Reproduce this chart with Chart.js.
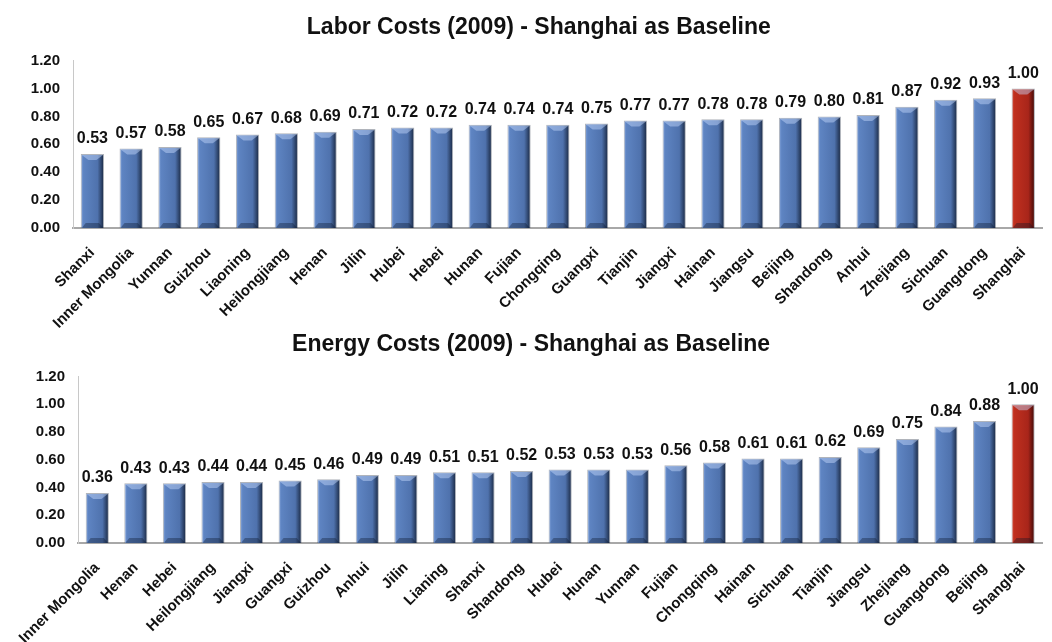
<!DOCTYPE html>
<html>
<head>
<meta charset="utf-8">
<script src="https://cdn.jsdelivr.net/npm/chart.js@4"></script>
<style>
  html, body { margin: 0; padding: 0; background: #fff; overflow: hidden; }
  .box { position: relative; width: 1052px; }
</style>
</head>
<body>
<div class="box" style="height:334px"><canvas id="laborChart"></canvas></div>
<div class="box" style="height:320px;margin-top:-12px"><canvas id="energyChart"></canvas></div>
<script>
// --- data ---
const laborRegions = ["Shanxi", "Inner Mongolia", "Yunnan", "Guizhou", "Liaoning", "Heilongjiang", "Henan", "Jilin", "Hubei", "Hebei", "Hunan", "Fujian", "Chongqing", "Guangxi", "Tianjin", "Jiangxi", "Hainan", "Jiangsu", "Beijing", "Shandong", "Anhui", "Zhejiang", "Sichuan", "Guangdong", "Shanghai"];
const laborValues = [0.53, 0.57, 0.58, 0.65, 0.67, 0.68, 0.69, 0.71, 0.72, 0.72, 0.74, 0.74, 0.74, 0.75, 0.77, 0.77, 0.78, 0.78, 0.79, 0.80, 0.81, 0.87, 0.92, 0.93, 1.00];

const energyRegions = ["Inner Mongolia", "Henan", "Hebei", "Heilongjiang", "Jiangxi", "Guangxi", "Guizhou", "Anhui", "Jilin", "Lianing", "Shanxi", "Shandong", "Hubei", "Hunan", "Yunnan", "Fujian", "Chongqing", "Hainan", "Sichuan", "Tianjin", "Jiangsu", "Zhejiang", "Guangdong", "Beijing", "Shanghai"];
const energyValues = [0.36, 0.43, 0.43, 0.44, 0.44, 0.45, 0.46, 0.49, 0.49, 0.51, 0.51, 0.52, 0.53, 0.53, 0.53, 0.56, 0.58, 0.61, 0.61, 0.62, 0.69, 0.75, 0.84, 0.88, 1.00];

const yTicks = [0, 0.2, 0.4, 0.6, 0.8, 1.0, 1.2];
const baseline = "Shanghai";

const FONT = "'Liberation Sans', Arial, sans-serif";

// horizontal shading for each bar
function barFill(ctx, labels) {
    const chart = ctx.chart;
    const isBase = labels[ctx.dataIndex] === baseline;
    if (!chart.chartArea || !chart.scales.x) return isBase ? '#b8281c' : '#5a7fbd';
    const x = chart.scales.x.getPixelForValue(ctx.dataIndex);
    const half = chart.scales.x.width / labels.length * 0.3;
    const g = chart.ctx.createLinearGradient(x - half, 0, x + half, 0);
    if (isBase) {
        g.addColorStop(0, '#d8503c');
        g.addColorStop(0.12, '#c0301f');
        g.addColorStop(0.72, '#a8251a');
        g.addColorStop(1, '#3a0806');
    } else {
        g.addColorStop(0, '#86a6dc');
        g.addColorStop(0.12, '#5e84c2');
        g.addColorStop(0.72, '#4f72ad');
        g.addColorStop(1, '#17253e');
    }
    return g;
}

// bevel on top / bottom of bars, then value labels
const barDecor = {
    id: 'barDecor',
    afterDatasetsDraw(chart) {
        const c = chart.ctx;
        const meta = chart.getDatasetMeta(0);
        const data = chart.data.datasets[0].data;
        c.save();
        meta.data.forEach((bar) => {
            const l = bar.x - bar.width / 2, r = bar.x + bar.width / 2;
            const t = bar.y, b = bar.base, k = 5;
            // top chevron highlight
            c.fillStyle = 'rgba(200,220,255,0.45)';
            c.beginPath();
            c.moveTo(l + 1, t + 1); c.lineTo(r - 1, t + 1);
            c.lineTo(bar.x + 4, t + k + 1); c.lineTo(bar.x - 4, t + k + 1);
            c.closePath(); c.fill();
            // bottom shade
            c.fillStyle = 'rgba(10,20,40,0.35)';
            c.beginPath();
            c.moveTo(l + 1, b); c.lineTo(r - 1, b);
            c.lineTo(r - k, b - k); c.lineTo(l + k, b - k);
            c.closePath(); c.fill();
        });
        c.font = 'bold 16px ' + FONT;
        c.fillStyle = '#111';
        c.textAlign = 'center';
        c.textBaseline = 'bottom';
        meta.data.forEach((bar, i) => {
            c.fillText(data[i].toFixed(2), bar.x, bar.y - 7);
        });
        c.restore();
    }
};

function makeChart(id, title, labels, values, opts) {
    new Chart(document.getElementById(id), {
        type: 'bar',
        data: {
            labels: labels,
            datasets: [{
                data: values,
                backgroundColor: (ctx) => barFill(ctx, labels),
                borderColor: 'rgba(30,40,60,0.35)',
                borderWidth: 1,
                categoryPercentage: 1.0,
                barPercentage: 0.6
            }]
        },
        plugins: [barDecor],
        options: {
            responsive: true,
            maintainAspectRatio: false,
            animation: false,
            layout: { padding: { left: 0, right: opts.right, top: 0, bottom: 0 } },
            plugins: {
                legend: { display: false },
                tooltip: { enabled: false },
                title: {
                    display: true,
                    // leading spaces nudge the centred title right, as in the original
                    text: opts.indent + title,
                    color: '#111',
                    font: { family: FONT, size: 23, weight: 'bold' },
                    padding: { top: opts.titleTop, bottom: opts.titleBottom }
                }
            },
            scales: {
                x: {
                    grid: { display: false, drawTicks: false },
                    border: { color: '#a8a8a8', width: 2 },
                    ticks: {
                        minRotation: 45,
                        maxRotation: 45,
                        autoSkip: false,
                        padding: 16,
                        color: '#111',
                        font: { family: FONT, size: 15, weight: 'bold' }
                    },
                    afterFit: (s) => { s.height = opts.xHeight; }
                },
                y: {
                    min: 0,
                    max: 1.2,
                    afterBuildTicks: (s) => { s.ticks = yTicks.map(v => ({ value: v })); },
                    grid: { display: false, drawTicks: false },
                    border: { color: '#c8c8c8', width: 1 },
                    ticks: {
                        padding: 13,
                        color: '#111',
                        font: { family: FONT, size: 15, weight: 'bold' },
                        callback: (v) => v.toFixed(2)
                    },
                    afterFit: (s) => { s.width = opts.yWidth; }
                }
            }
        }
    });
}

makeChart('laborChart', 'Labor Costs (2009) - Shanghai as Baseline', laborRegions, laborValues,
    { right: 0, titleTop: 14, titleBottom: 19, xHeight: 106, yWidth: 73, indent: '    ' });
makeChart('energyChart', 'Energy Costs (2009) - Shanghai as Baseline', energyRegions, energyValues,
    { right: 9, titleTop: 9, titleBottom: 18, xHeight: 99, yWidth: 78, indent: '   ' });
</script>
</body>
</html>
